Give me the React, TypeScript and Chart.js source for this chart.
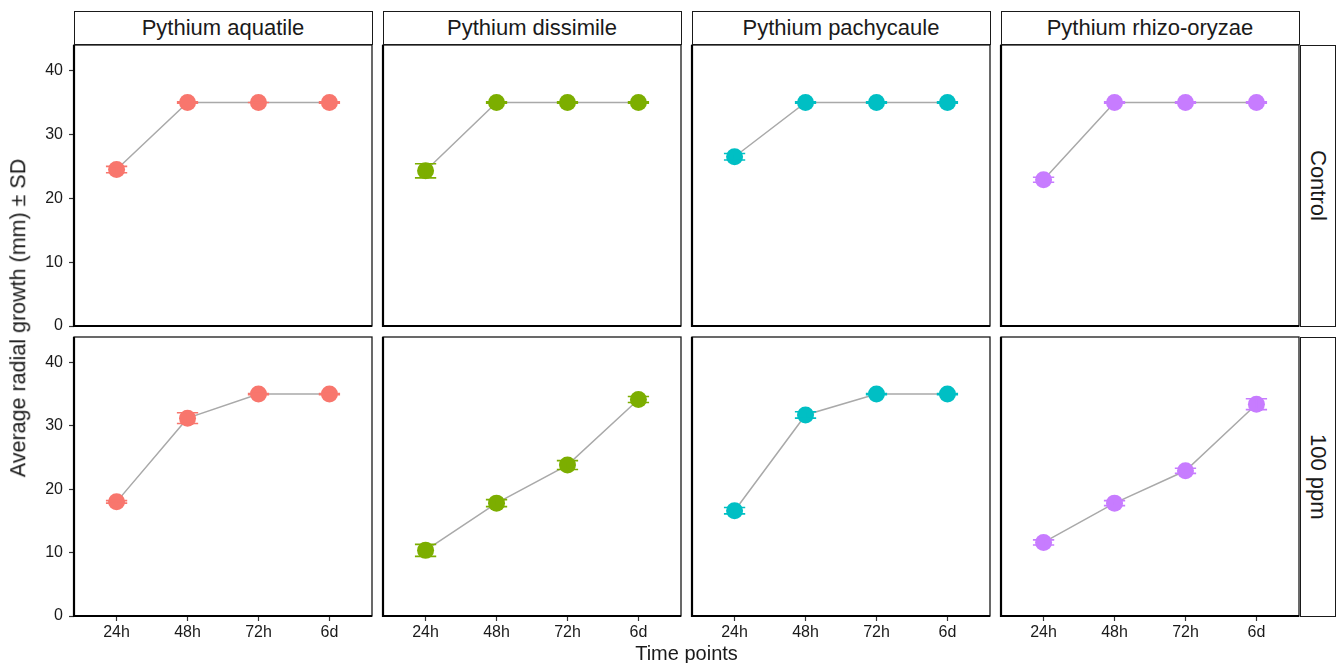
import React, { useEffect, useRef } from 'react';
import { Chart, registerables } from 'chart.js';

Chart.register(...registerables);

// ---------- data ----------
const timeLabels = ['24h', '48h', '72h', '6d'];
const speciesNames = ['Pythium aquatile', 'Pythium dissimile', 'Pythium pachycaule', 'Pythium rhizo-oryzae'];
const treatmentNames = ['Control', '100 ppm'];
const speciesColors = ['#F8766D', '#7CAE00', '#00BFC4', '#C77CFF'];
const yTickValues = [0, 10, 20, 30, 40];

const aquatileControlMean = [24.5, 35, 35, 35];
const aquatileControlSd = [0.5, 0.1, 0, 0.1];
const dissimileControlMean = [24.3, 35, 35, 35];
const dissimileControlSd = [1.1, 0.1, 0.1, 0.1];
const pachycauleControlMean = [26.5, 35, 35, 35];
const pachycauleControlSd = [0.5, 0.1, 0.1, 0.1];
const rhizoControlMean = [22.9, 35, 35, 35];
const rhizoControlSd = [0.4, 0.1, 0.1, 0.1];

const aquatile100Mean = [18.0, 31.2, 35, 35];
const aquatile100Sd = [0.2, 0.85, 0.1, 0.1];
const dissimile100Mean = [10.35, 17.8, 23.8, 34.15];
const dissimile100Sd = [0.95, 0.55, 0.7, 0.47];
const pachycaule100Mean = [16.6, 31.7, 35, 35];
const pachycaule100Sd = [0.5, 0.5, 0.1, 0.1];
const rhizo100Mean = [11.6, 17.8, 22.9, 33.4];
const rhizo100Sd = [0.4, 0.4, 0.4, 0.85];

const meanTable = [
  [aquatileControlMean, dissimileControlMean, pachycauleControlMean, rhizoControlMean],
  [aquatile100Mean, dissimile100Mean, pachycaule100Mean, rhizo100Mean],
];
const sdTable = [
  [aquatileControlSd, dissimileControlSd, pachycauleControlSd, rhizoControlSd],
  [aquatile100Sd, dissimile100Sd, pachycaule100Sd, rhizo100Sd],
];

// ---------- layout ----------
const FONT = "'Liberation Sans', Arial, Helvetica, sans-serif";
const panelLefts = [74, 383, 692, 1001];
const panelWidth = 298;
const panelTops = [45, 337];
const panelBottoms = [326, 616];
const PAD = 24;
const Y_AXIS_W = 74;
const X_AXIS_H = 30;

function Panel({ row, col }: { row: number; col: number }) {
  const ref = useRef<HTMLCanvasElement | null>(null);
  const isLeft = col === 0;
  const isBottom = row === 1;
  const pl = panelLefts[col];
  const pr = pl + panelWidth;
  const pt = panelTops[row];
  const pb = panelBottoms[row];
  const left = isLeft ? 0 : pl - PAD;
  const top = pt - PAD;
  const width = pr + PAD - left;
  const height = (isBottom ? pb + X_AXIS_H : pb + PAD) - top;

  useEffect(() => {
    const means = meanTable[row][col];
    const sds = sdTable[row][col];
    const color = speciesColors[col];

    const errorBars = {
      id: 'errorBars',
      afterDatasetsDraw(chart: any) {
        const xs = chart.scales.x;
        const ys = chart.scales.y;
        const ctx = chart.ctx;
        ctx.save();
        ctx.strokeStyle = color;
        ctx.lineWidth = 1.6;
        means.forEach((m: number, i: number) => {
          const x = xs.getPixelForValue(i);
          const xl = xs.getPixelForValue(i - 0.15);
          const xr = xs.getPixelForValue(i + 0.15);
          const y1 = ys.getPixelForValue(m - sds[i]);
          const y2 = ys.getPixelForValue(m + sds[i]);
          ctx.beginPath();
          ctx.moveTo(x, y1);
          ctx.lineTo(x, y2);
          ctx.moveTo(xl, y1);
          ctx.lineTo(xr, y1);
          ctx.moveTo(xl, y2);
          ctx.lineTo(xr, y2);
          ctx.stroke();
        });
        ctx.restore();
      },
    };

    const panelBorder = {
      id: 'panelBorder',
      afterDraw(chart: any) {
        const ca = chart.chartArea;
        const ctx = chart.ctx;
        ctx.save();
        ctx.strokeStyle = '#1a1a1a';
        ctx.lineWidth = 1.3;
        ctx.strokeRect(ca.left, ca.top, ca.right - ca.left, ca.bottom - ca.top);
        ctx.strokeStyle = '#000';
        ctx.lineWidth = 2.2;
        ctx.beginPath();
        ctx.moveTo(ca.left, ca.top);
        ctx.lineTo(ca.left, ca.bottom);
        ctx.lineTo(ca.right, ca.bottom);
        ctx.stroke();
        ctx.restore();
      },
    };

    const chart = new Chart(ref.current as HTMLCanvasElement, {
      type: 'line',
      data: {
        datasets: [
          {
            data: means.map((v: number, i: number) => ({ x: i, y: v })),
            borderColor: '#A9A9A9',
            borderWidth: 1.5,
            pointRadius: 8.5,
            pointBorderWidth: 0,
            pointBackgroundColor: color,
            pointBorderColor: color,
            tension: 0,
            clip: false as any,
          },
        ],
      },
      options: {
        responsive: false,
        animation: false,
        events: [],
        layout: {
          padding: {
            left: isLeft ? 0 : PAD,
            right: PAD,
            top: PAD,
            bottom: isBottom ? 0 : PAD,
          },
        },
        plugins: { legend: { display: false }, tooltip: { enabled: false } },
        scales: {
          x: {
            type: 'linear',
            min: -0.6,
            max: 3.6,
            display: isBottom,
            border: { display: false },
            grid: { display: true, drawOnChartArea: false, drawTicks: true, tickLength: 5, tickColor: '#333', tickWidth: 1.2 },
            ticks: {
              color: '#1a1a1a',
              font: { family: FONT, size: 16 },
              padding: 2,
              maxRotation: 0,
              autoSkip: false,
              callback: (v: any) => timeLabels[v as number] ?? '',
            },
            afterBuildTicks: (scale: any) => {
              scale.ticks = timeLabels.map((_, i) => ({ value: i }));
            },
            afterFit: (scale: any) => {
              scale.height = isBottom ? X_AXIS_H : 0;
            },
          },
          y: {
            type: 'linear',
            min: 0,
            max: 44,
            display: isLeft,
            border: { display: false },
            grid: { display: true, drawOnChartArea: false, drawTicks: true, tickLength: 5, tickColor: '#333', tickWidth: 1.2 },
            ticks: {
              color: '#1a1a1a',
              font: { family: FONT, size: 16 },
              padding: 6,
              includeBounds: false,
            },
            afterBuildTicks: (scale: any) => {
              scale.ticks = yTickValues.map((v) => ({ value: v }));
            },
            afterFit: (scale: any) => {
              scale.width = isLeft ? Y_AXIS_W : 0;
            },
          },
        },
      },
      plugins: [errorBars, panelBorder],
    } as any);
    return () => chart.destroy();
  }, []);

  return (
    <canvas
      ref={ref}
      width={width}
      height={height}
      style={{ position: 'absolute', left, top, width, height }}
    />
  );
}

export default function App() {
  const panels: JSX.Element[] = [];
  for (let r = 0; r < 2; r++) {
    for (let c = 0; c < 4; c++) {
      panels.push(<Panel key={`${r}-${c}`} row={r} col={c} />);
    }
  }
  return (
    <div
      style={{
        position: 'absolute',
        left: 0,
        top: 0,
        width: 1337,
        height: 663,
        background: '#fff',
        fontFamily: FONT,
        color: '#1a1a1a',
        overflow: 'hidden',
      }}
    >
      {speciesNames.map((name, c) => (
        <div
          key={name}
          style={{
            position: 'absolute',
            left: panelLefts[c] - 0.5,
            top: 10.5,
            width: panelWidth + 1,
            height: 34.5,
            boxSizing: 'border-box',
            border: '1.3px solid #1a1a1a',
            background: '#fff',
            display: 'flex',
            alignItems: 'center',
            justifyContent: 'center',
            fontSize: 22,
            whiteSpace: 'nowrap',
          }}
        >
          {name}
        </div>
      ))}
      {treatmentNames.map((name, r) => (
        <div
          key={name}
          style={{
            position: 'absolute',
            left: 1300,
            top: panelTops[r] - 0.5,
            width: 36,
            height: panelBottoms[r] - panelTops[r] + 1,
            boxSizing: 'border-box',
            border: '1.3px solid #1a1a1a',
            background: '#fff',
            display: 'flex',
            alignItems: 'center',
            justifyContent: 'center',
            fontSize: 22,
            whiteSpace: 'nowrap',
          }}
        >
          <span style={{ writingMode: 'vertical-rl' }}>{name}</span>
        </div>
      ))}
      {panels}
      <div
        style={{
          position: 'absolute',
          left: 19,
          top: 318,
          transform: 'translate(-50%, -50%) rotate(-90deg)',
          fontSize: 21.5,
          whiteSpace: 'nowrap',
          lineHeight: 1,
        }}
      >
        Average radial growth (mm) ± SD
      </div>
      <div
        style={{
          position: 'absolute',
          left: 686.5,
          top: 653,
          transform: 'translate(-50%, -50%)',
          fontSize: 20,
          whiteSpace: 'nowrap',
          lineHeight: 1,
        }}
      >
        Time points
      </div>
    </div>
  );
}
